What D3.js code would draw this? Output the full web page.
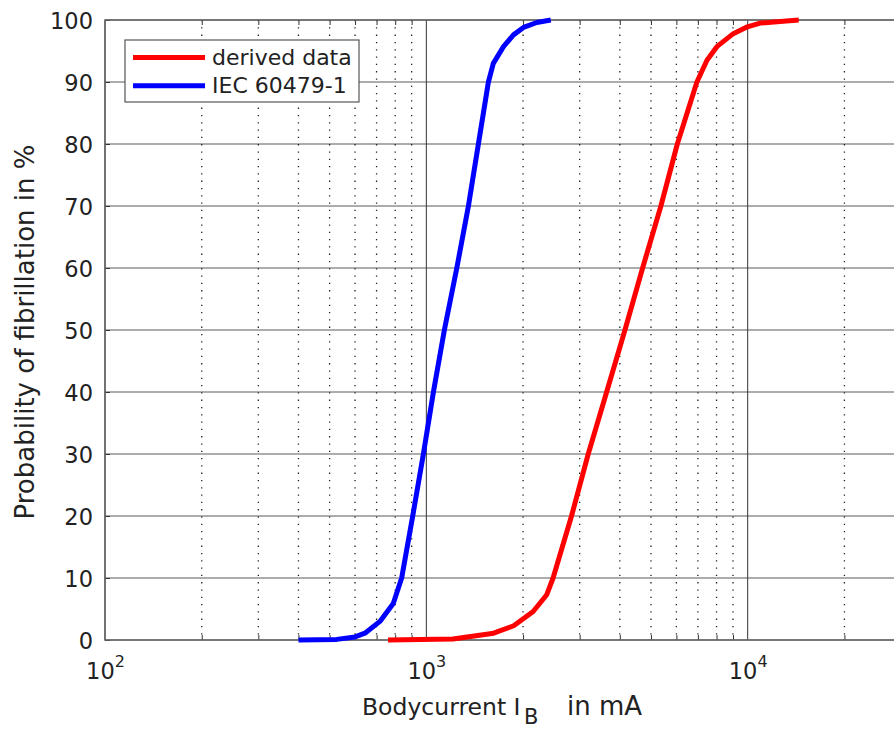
<!DOCTYPE html>
<html><head><meta charset="utf-8">
<script src="https://cdn.jsdelivr.net/npm/d3@7"></script>
<style>body{margin:0;background:#fff}</style>
</head><body><svg id="c" width="894" height="729"></svg>
<script>
// ---- data ----
const seriesNames = ["derived data", "IEC 60479-1"];
const seriesColors = ["#ff0000", "#0000ff"];
const redCurrent = [760, 1210, 1620, 1870, 2150, 2370, 2480, 2830, 3190, 3640, 4150, 4710, 5370, 6040, 6950, 7470, 8020, 9020, 9980, 10930, 14420];
const redProb    = [0, 0.15, 1.1, 2.3, 4.6, 7.3, 10, 20, 30, 40, 50, 60, 70, 80, 90, 93.5, 95.7, 97.8, 98.9, 99.5, 100];
const blueCurrent = [400, 526, 600, 644, 717, 789, 838, 907, 979, 1052, 1138, 1244, 1352, 1452, 1560, 1616, 1738, 1867, 2006, 2207, 2440];
const blueProb    = [0, 0.1, 0.5, 1.1, 3, 5.9, 10, 20, 30, 40, 50, 60, 70, 80, 90, 93, 95.7, 97.6, 98.8, 99.6, 100];
const yTicks = [0, 10, 20, 30, 40, 50, 60, 70, 80, 90, 100];
const xMajorTicks = [100, 1000, 10000];
const xMajorExp = ["2", "3", "4"];
const xMinorTicks = [200, 300, 400, 500, 600, 700, 800, 900, 2000, 3000, 4000, 5000, 6000, 7000, 8000, 9000, 20000];
const xLabel = ["Bodycurrent I", "B", "in mA"];
const yLabel = "Probability of fibrillation in %";

// ---- layout ----
const L = 105, R = 901, T = 20, B = 640;
const FONT = "DejaVu Sans, sans-serif";
const svg = d3.select("#c").style("font-family", FONT);
const x = d3.scaleLog().domain([100, 30000]).range([L, R]);
const y = d3.scaleLinear().domain([0, 100]).range([B, T]);

// grid
const g = svg.append("g");
g.selectAll(".hg").data(yTicks).join("line")
  .attr("x1", L).attr("x2", R).attr("y1", d => y(d)).attr("y2", d => y(d))
  .attr("stroke", "#5a5a5a").attr("stroke-width", 1.2);
g.selectAll(".vmin").data(xMinorTicks).join("line")
  .attr("x1", d => x(d)).attr("x2", d => x(d)).attr("y1", T).attr("y2", B)
  .attr("stroke", "#222").attr("stroke-width", 1.3).attr("stroke-dasharray", "1.3,6");
g.selectAll(".vmaj").data(xMajorTicks).join("line")
  .attr("x1", d => x(d)).attr("x2", d => x(d)).attr("y1", T).attr("y2", B)
  .attr("stroke", "#333").attr("stroke-width", 1);

// axes
const tickStyle = sel => { sel.select(".domain").remove(); sel.selectAll("line").attr("stroke", "#333"); };
svg.append("g").attr("transform", `translate(0,${B})`)
  .call(d3.axisBottom(x).tickValues(xMinorTicks).tickSize(-5).tickFormat(""))
  .call(tickStyle);
svg.append("g").attr("transform", `translate(0,${T})`)
  .call(d3.axisTop(x).tickValues(xMinorTicks).tickSize(-5).tickFormat(""))
  .call(tickStyle);

const ya = svg.append("g").attr("transform", `translate(${L},0)`)
  .call(d3.axisLeft(y).tickValues(yTicks).tickSizeInner(-5).tickSizeOuter(0).tickPadding(12))
  .call(tickStyle);
ya.selectAll("text").attr("font-size", 22.5).attr("font-family", FONT).attr("fill", "#222").attr("dy", "0.36em");

const xa = svg.append("g").attr("transform", `translate(0,${B})`)
  .call(d3.axisBottom(x).tickValues(xMajorTicks).tickSize(0).tickPadding(0).tickFormat(""))
  .call(tickStyle);
xa.selectAll(".tick text").each(function(d, i) {
  const t = d3.select(this).attr("y", 39).attr("dy", null).attr("font-size", 22.5)
    .attr("font-family", FONT).attr("fill", "#222").attr("text-anchor", "middle");
  t.text(null);
  t.append("tspan").text("10");
  t.append("tspan").attr("font-size", 16).attr("dy", -12).text(xMajorExp[i]);
});

// frame
svg.append("path")
  .attr("d", `M${L},${T}H${R}V${B}H${L}Z`)
  .attr("fill", "none").attr("stroke", "#666").attr("stroke-width", 1.5);

// data lines
const line = d3.line().x(d => x(d[0])).y(d => y(d[1]));
const series = [d3.zip(redCurrent, redProb), d3.zip(blueCurrent, blueProb)];
svg.append("g").selectAll("path").data(series).join("path")
  .attr("d", line).attr("fill", "none")
  .attr("stroke", (d, i) => seriesColors[i]).attr("stroke-width", 5)
  .attr("stroke-linejoin", "round");

// legend
const lg = svg.append("g");
lg.append("rect").attr("x", 125).attr("y", 40).attr("width", 234).attr("height", 62)
  .attr("fill", "#fff").attr("stroke", "#555").attr("stroke-width", 1.2);
seriesNames.forEach((n, i) => {
  const yy = 57.5 + i * 28.3;
  lg.append("line").attr("x1", 133).attr("x2", 205).attr("y1", yy).attr("y2", yy)
    .attr("stroke", seriesColors[i]).attr("stroke-width", 5);
  lg.append("text").attr("x", 212).attr("y", yy + 7.5).attr("font-size", 22)
    .attr("fill", "#222").text(n);
});

// axis labels
const xl = svg.append("text").attr("y", 715)
  .attr("font-size", 23.5).attr("fill", "#222");
xl.append("tspan").attr("x", 362).text(xLabel[0]);
xl.append("tspan").attr("x", 524).attr("font-size", 21).attr("dy", 9).text(xLabel[1]);
xl.append("tspan").attr("x", 567).attr("dy", -9).attr("font-size", 26).text(xLabel[2]);

svg.append("text").attr("transform", `translate(34,${(T + B) / 2 + 2}) rotate(-90)`)
  .attr("text-anchor", "middle").attr("font-size", 26).attr("fill", "#222").text(yLabel);
</script>
</body></html>
